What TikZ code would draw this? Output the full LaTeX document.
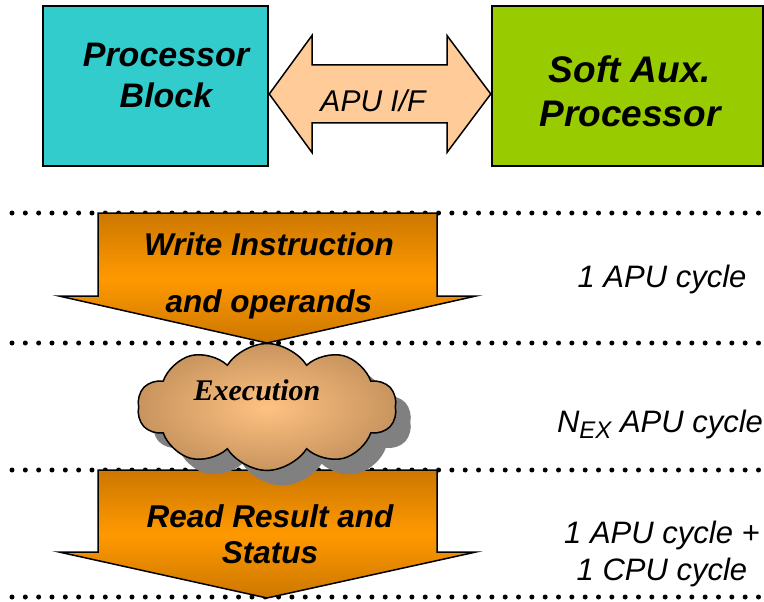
\documentclass[tikz,border=0pt]{standalone}
\usepackage{fontspec}
\setmainfont{Liberation Sans}
\newfontfamily\execfont{Liberation Serif}
\usetikzlibrary{shapes.symbols,shadows}

\definecolor{procblue}{RGB}{51,204,204}
\definecolor{auxgreen}{RGB}{153,204,0}
\definecolor{ifpeach}{RGB}{255,204,153}
\definecolor{stepdark}{RGB}{204,119,0}
\definecolor{steplight}{RGB}{255,153,0}
\definecolor{cloudlight}{RGB}{255,194,130}
\definecolor{clouddark}{RGB}{200,148,94}
\definecolor{shadowgray}{RGB}{128,128,128}

\newcommand{\txtsize}[2]{\fontsize{#1}{#2}\selectfont}

\begin{document}
\begin{tikzpicture}[x=1pt,y=-1pt,
    block/.style={draw,line width=2.5pt,inner sep=0pt,minimum height=160pt},
    blocktxt/.style={align=center,inner sep=0pt,anchor=base,font=\bfseries\itshape},
    steparrow/.style={draw,line width=1.5pt,line join=miter,top color=stepdark,bottom color=stepdark,middle color=steplight},
    steptxt/.style={align=center,inner sep=0pt,anchor=base,font=\bfseries\itshape\txtsize{31.5}{57}},
    cyclelbl/.style={align=center,inner sep=0pt,anchor=base,font=\itshape\txtsize{31}{37}},
    dotline/.style={line width=5pt,line cap=round,dash pattern=on 0pt off 13.33pt}]
    \useasboundingbox (0,0) rectangle (764,602);

    % time slots
    \foreach \y in {213,343,470,597}
        \draw[dotline] (12,\y) -- (770,\y);

    % the two processors and their interface
    \node[block,fill=procblue,minimum width=225pt] (proc) at (155.5,86) {};
    \node[block,fill=auxgreen,minimum width=271pt] (aux) at (627.5,86) {};
    \node[blocktxt,font=\bfseries\itshape\txtsize{34}{40}] (proctxt) at (166,107) {Processor\\Block};
    \node[blocktxt,font=\bfseries\itshape\txtsize{37}{44}] (auxtxt) at (630,127) {Soft Aux.\\Processor};

    \path (proc.east) ++(0,8) coordinate (ifL);
    \path (aux.west) ++(0,8) coordinate (ifR);
    \draw[line width=1.5pt,line join=miter,fill=ifpeach] (ifL) -- (312,35.5) -- (312,65) -- (447,65)
        -- (447,35.5) -- (ifR) -- (447,152.5) -- (447,123) -- (312,123) -- (312,152.5) -- cycle;
    \node[inner sep=0pt,anchor=base,font=\itshape\txtsize{30}{36}] (apu) at (373,111) {APU I/F};

    % read result
    \path[steparrow] (98,470) -- (437,470) -- (437,552) -- (476,552) -- (267,598) -- (59,552) -- (98,552) -- cycle;
    \node[steptxt,font=\bfseries\itshape\txtsize{31.5}{36}] (readtxt) at (270,563) {Read Result and\\Status};

    % execution
    \node[cloud,cloud puffs=10,cloud puff arc=115,aspect=2.04,minimum width=259pt,minimum height=127pt,draw,line width=1.5pt,
        inner color=cloudlight,outer color=clouddark,
        drop shadow={shadow xshift=15pt,shadow yshift=-15pt,fill=shadowgray,opacity=1}] (exec) at (267,407) {};
    \node[inner sep=0pt,anchor=base,font=\execfont\bfseries\itshape\txtsize{30}{36}] (exectxt) at (257,400) {Execution};

    % write instruction
    \path[steparrow] (98,213) -- (437,213) -- (437,296) -- (476,296) -- (267,343) -- (59,296) -- (98,296) -- cycle;
    \node[steptxt] (writetxt) at (269,312) {Write Instruction\\and operands};

    % cycle counts
    \node[cyclelbl] (cyc1) at (662,287) {1 APU cycle};
    \node[cyclelbl] (cyc2) at (660,432) {N\raisebox{-6pt}{\txtsize{24}{24}EX} APU cycle};
    \node[cyclelbl] (cyc3) at (662,580) {1 APU cycle +\\1 CPU cycle};
\end{tikzpicture}
\end{document}
